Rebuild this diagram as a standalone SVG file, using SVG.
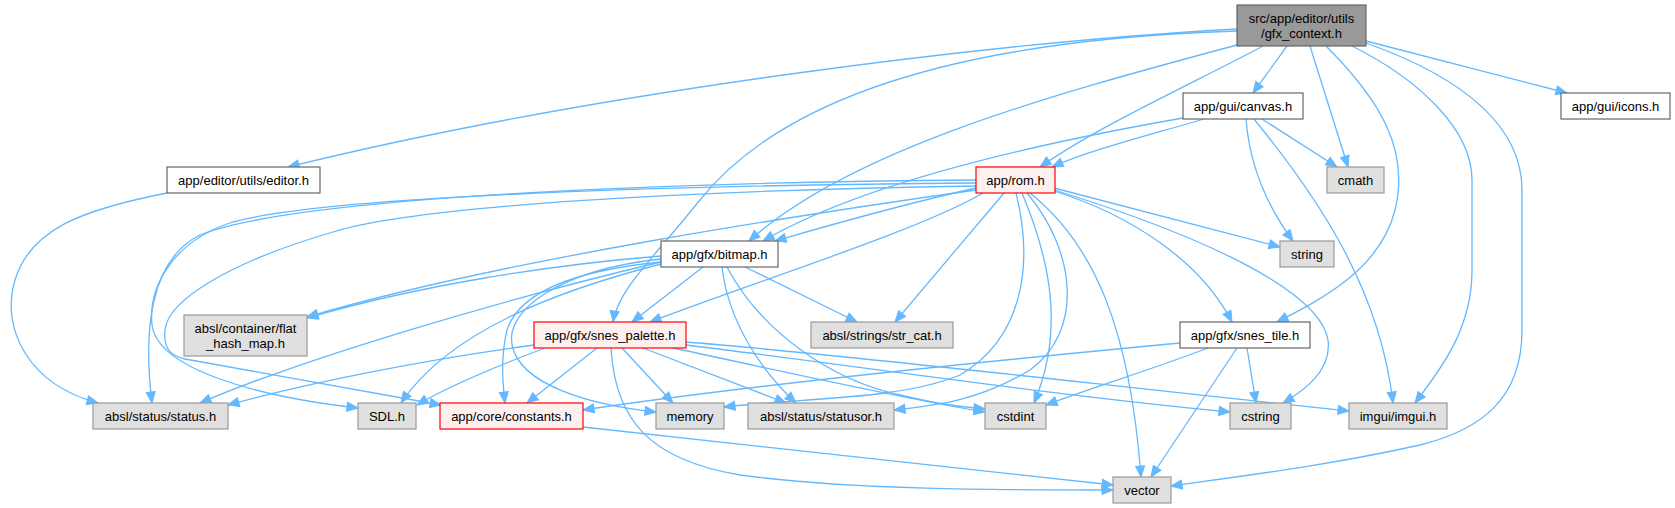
<svg xmlns="http://www.w3.org/2000/svg" width="1675" height="508" viewBox="0 0 1675 508">
<style>
.e{fill:none;stroke:#63b8ff;stroke-width:1.3;marker-end:url(#a)}
.n rect{stroke-width:1.2}
.w{fill:#ffffff;stroke:#666666}
.g{fill:#e0e0e0;stroke:#999999}
.r{fill:#fff0f0;stroke:#ff0000}
.k{fill:#999999;stroke:#666666}
text{font-family:"Liberation Sans",Arial,Helvetica,sans-serif;font-size:13px;fill:#000;text-anchor:middle}
</style>
<defs>
<marker id="a" markerWidth="13" markerHeight="11" refX="11" refY="5" orient="auto" markerUnits="userSpaceOnUse" overflow="visible">
<path d="M0,0.5 L11,5 L0,9.5 z" fill="#63b8ff" stroke="#63b8ff" stroke-width="1"/>
</marker>
</defs>
<rect width="1675" height="508" fill="#ffffff"/>
<g id="edges">
<path class="e" d="M1237,29 C1000,42 600,90 288,167"/>
<path class="e" d="M1237,31 C950,40 780,100 700,200 C650,262 618,290 613,322"/>
<path class="e" d="M1237,45 C1050,95 850,150 749,241"/>
<path class="e" d="M1263,46 C1200,80 1100,125 1040,167"/>
<path class="e" d="M1287,46 L1253,93"/>
<path class="e" d="M1310,46 L1348,167"/>
<path class="e" d="M1326,46 C1380,100 1410,150 1395,210 C1380,270 1320,300 1277,322"/>
<path class="e" d="M1352,46 C1420,80 1472,130 1472,180 L1472,270 C1472,330 1440,370 1415,403"/>
<path class="e" d="M1366,43 C1470,80 1522,130 1522,190 L1522,330 C1522,400 1480,430 1420,445 C1330,465 1250,475 1171,486"/>
<path class="e" d="M1366,41 L1567,93"/>
<path class="e" d="M1183,118 C1000,150 850,190 763,241"/>
<path class="e" d="M1204,119 C1150,135 1090,150 1052,167"/>
<path class="e" d="M1262,119 L1337,167"/>
<path class="e" d="M1246,119 C1250,170 1270,210 1293,241"/>
<path class="e" d="M1254,119 C1320,200 1380,290 1393,403"/>
<path class="e" d="M167,193 C80,210 30,230 15,280 C0,330 30,385 98,403"/>
<path class="e" d="M976,188 C900,205 830,225 775,241"/>
<path class="e" d="M983,193 C920,230 760,280 650,322"/>
<path class="e" d="M976,190 C800,215 500,260 307,317"/>
<path class="e" d="M976,180 C700,182 300,195 200,235 C150,260 143,330 152,403"/>
<path class="e" d="M976,183 C700,185 330,195 233,222 C175,240 148,285 152,325 C158,370 260,397 358,408"/>
<path class="e" d="M976,186 C700,190 420,205 333,232 C230,262 168,300 165,330 C163,350 172,356 185,359 L441,405"/>
<path class="e" d="M1004,193 L895,322"/>
<path class="e" d="M1016,193 C1035,270 1020,340 960,375 C900,400 800,398 724,407"/>
<path class="e" d="M1027,193 C1075,250 1085,330 1030,370 C980,400 940,405 894,410"/>
<path class="e" d="M1022,193 C1050,260 1065,330 1034,403"/>
<path class="e" d="M1030,193 C1095,245 1130,330 1141,477"/>
<path class="e" d="M1054,191 C1130,215 1200,260 1232,322"/>
<path class="e" d="M1054,190 C1200,235 1320,290 1328,340 C1332,370 1305,390 1283,403"/>
<path class="e" d="M1054,188 L1280,247"/>
<path class="e" d="M661,256 C550,265 420,285 307,318"/>
<path class="e" d="M703,267 L632,322"/>
<path class="e" d="M745,267 L857,322"/>
<path class="e" d="M661,262 C500,300 300,360 200,403"/>
<path class="e" d="M661,264 C560,290 450,330 401,403"/>
<path class="e" d="M661,262 C580,270 520,290 507,330 C500,360 503,385 505,403"/>
<path class="e" d="M661,259 C560,270 505,310 512,345 C520,385 590,405 656,412"/>
<path class="e" d="M722,267 C728,320 760,370 796,403"/>
<path class="e" d="M727,267 C760,330 830,380 900,395 C930,402 950,406 985,409"/>
<path class="e" d="M534,345 C420,360 300,385 228,405"/>
<path class="e" d="M545,348 C500,365 450,385 417,405"/>
<path class="e" d="M597,348 L527,403"/>
<path class="e" d="M622,348 L673,403"/>
<path class="e" d="M643,348 L786,403"/>
<path class="e" d="M673,348 C800,375 900,398 985,412"/>
<path class="e" d="M686,345 C850,365 1050,395 1230,412"/>
<path class="e" d="M686,342 C850,355 1100,385 1349,411"/>
<path class="e" d="M611,348 C615,420 650,460 740,475 C850,490 1000,490 1113,490"/>
<path class="e" d="M1180,343 C1000,360 750,385 583,410"/>
<path class="e" d="M1208,348 C1150,370 1100,385 1046,405"/>
<path class="e" d="M1247,348 L1256,403"/>
<path class="e" d="M1237,348 L1151,477"/>
<path class="e" d="M583,427 C800,450 1000,472 1113,485"/>
</g>
<g id="gfx_context" class="n"><rect class="k" x="1237" y="5" width="129" height="41"/><text x="1301.5" y="23">src/app/editor/utils</text><text x="1301.5" y="37.5">/gfx_context.h</text></g>
<g id="editor" class="n"><rect class="w" x="167" y="167" width="153" height="26"/><text x="243.5" y="184.5">app/editor/utils/editor.h</text></g>
<g id="canvas" class="n"><rect class="w" x="1183" y="93" width="120" height="26"/><text x="1243" y="110.5">app/gui/canvas.h</text></g>
<g id="icons" class="n"><rect class="w" x="1561" y="93" width="109" height="26"/><text x="1615.5" y="110.5">app/gui/icons.h</text></g>
<g id="cmath" class="n"><rect class="g" x="1327" y="167" width="57" height="26"/><text x="1355.5" y="184.5">cmath</text></g>
<g id="rom" class="n"><rect class="r" x="976" y="167" width="79" height="26"/><text x="1015.5" y="184.5">app/rom.h</text></g>
<g id="bitmap" class="n"><rect class="w" x="661" y="241" width="117" height="26"/><text x="719.5" y="258.5">app/gfx/bitmap.h</text></g>
<g id="string" class="n"><rect class="g" x="1280" y="241" width="54" height="26"/><text x="1307" y="258.5">string</text></g>
<g id="flat_hash_map" class="n"><rect class="g" x="184" y="315" width="123" height="41"/><text x="245.5" y="333">absl/container/flat</text><text x="245.5" y="347.5">_hash_map.h</text></g>
<g id="snes_palette" class="n"><rect class="r" x="534" y="322" width="152" height="26"/><text x="610" y="339.5">app/gfx/snes_palette.h</text></g>
<g id="str_cat" class="n"><rect class="g" x="811" y="322" width="142" height="26"/><text x="882" y="339.5">absl/strings/str_cat.h</text></g>
<g id="snes_tile" class="n"><rect class="w" x="1180" y="322" width="130" height="26"/><text x="1245" y="339.5">app/gfx/snes_tile.h</text></g>
<g id="status" class="n"><rect class="g" x="93" y="403" width="135" height="26"/><text x="160.5" y="420.5">absl/status/status.h</text></g>
<g id="sdl" class="n"><rect class="g" x="358" y="403" width="58" height="26"/><text x="387" y="420.5">SDL.h</text></g>
<g id="constants" class="n"><rect class="r" x="440" y="403" width="143" height="26"/><text x="511.5" y="420.5">app/core/constants.h</text></g>
<g id="memory" class="n"><rect class="g" x="656" y="403" width="68" height="26"/><text x="690" y="420.5">memory</text></g>
<g id="statusor" class="n"><rect class="g" x="748" y="403" width="146" height="26"/><text x="821" y="420.5">absl/status/statusor.h</text></g>
<g id="cstdint" class="n"><rect class="g" x="985" y="403" width="61" height="26"/><text x="1015.5" y="420.5">cstdint</text></g>
<g id="cstring" class="n"><rect class="g" x="1230" y="403" width="61" height="26"/><text x="1260.5" y="420.5">cstring</text></g>
<g id="imgui" class="n"><rect class="g" x="1349" y="403" width="98" height="26"/><text x="1398" y="420.5">imgui/imgui.h</text></g>
<g id="vector" class="n"><rect class="g" x="1113" y="477" width="58" height="26"/><text x="1142" y="494.5">vector</text></g>
</svg>
